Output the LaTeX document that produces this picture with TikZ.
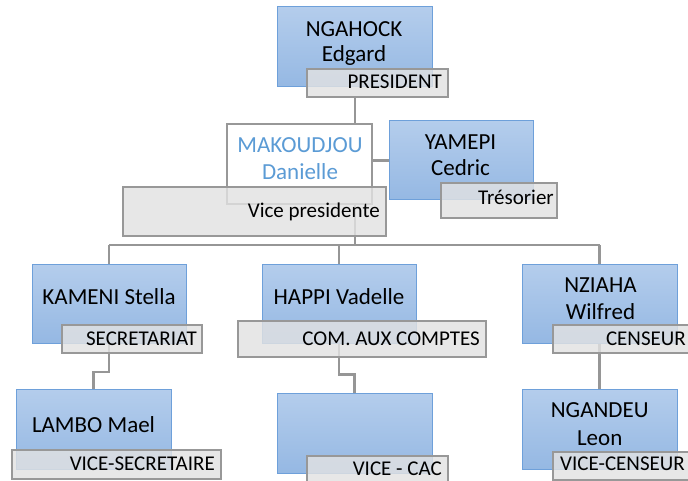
\documentclass[tikz,border=0pt]{standalone}
\usepackage{fontspec}
\setmainfont{Carlito}
\definecolor{bluetop}{RGB}{180,205,236}
\definecolor{bluebot}{RGB}{149,184,227}
\definecolor{bluebd}{RGB}{110,160,218}
\definecolor{lblfill}{RGB}{226,226,226}
\definecolor{lbldraw}{RGB}{152,152,152}
\definecolor{connc}{RGB}{150,150,150}
\definecolor{nameblue}{RGB}{91,155,213}
\pgfdeclarelayer{bg}
\pgfdeclarelayer{front}
\pgfsetlayers{bg,main,front}
\tikzset{
  pbox/.style={draw=bluebd, line width=1pt, top color=bluetop, bottom color=bluebot,
    inner sep=0pt, outer sep=0pt},
  wbox/.style={draw=lbldraw, line width=2.2pt, fill=white, inner sep=0pt, outer sep=0pt},
  lbox/.style={draw=lbldraw, line width=2.6pt, fill=lblfill, fill opacity=0.82,
    inner sep=0pt, outer sep=0pt},
  conn/.style={draw=connc, line width=2.5pt},
  nametext/.style={font=\fontsize{23}{26}\selectfont, inner sep=0pt, anchor=base},
  lbltext/.style={font=\fontsize{21}{25}\selectfont, inner sep=0pt, anchor=base east},
}
\begin{document}
\begin{tikzpicture}[x=1pt, y=-1pt]
\clip (0,0) rectangle (688,481);
\begin{pgfonlayer}{bg}
\fill[white] (0,0) rectangle (688,481);
\end{pgfonlayer}

% person boxes
\path
 node[pbox, minimum width=155pt, minimum height=80pt] (ngahock) at (354.5,47) {}
 node[pbox, minimum width=144pt, minimum height=79pt] (yamepi) at (461,160.5) {}
 node[pbox, minimum width=154pt, minimum height=79pt] (kameni) at (109,303.5) {}
 node[pbox, minimum width=154pt, minimum height=79pt] (happi) at (339,303.5) {}
 node[pbox, minimum width=155pt, minimum height=79pt] (nziaha) at (599.5,303.5) {}
 node[pbox, minimum width=155pt, minimum height=80pt] (lambo) at (93.5,429) {}
 node[pbox, minimum width=155pt, minimum height=80pt] (vicecac) at (354.5,433) {}
 node[pbox, minimum width=155pt, minimum height=80pt] (ngandeu) at (599.5,429) {}
 node[wbox, minimum width=145pt, minimum height=80pt] (makoudjou) at (299.5,164) {};

% label boxes
\path
 node[lbox, minimum width=141pt, minimum height=28pt] (president) at (377.5,83) {}
 node[lbox, minimum width=263pt, minimum height=49pt] (vicepres) at (254.5,211.5) {}
 node[lbox, minimum width=116pt, minimum height=35pt] (tresorier) at (499,200.5) {}
 node[lbox, minimum width=140pt, minimum height=28pt] (secretariat) at (132,339) {}
 node[lbox, minimum width=248pt, minimum height=36pt] (comptes) at (362,339) {}
 node[lbox, minimum width=141pt, minimum height=28pt] (censeur) at (623.5,339) {}
 node[lbox, minimum width=209pt, minimum height=29pt] (vicesec) at (116.5,464.5) {}
 node[lbox, minimum width=141pt, minimum height=30pt] (vicecaclbl) at (377.5,471) {}
 node[lbox, minimum width=141pt, minimum height=28pt] (vicecens) at (623.5,466) {};

\coordinate (hub) at (355,245);

% connectors (behind)
\begin{pgfonlayer}{bg}
\draw[conn] (president.south -| hub) -- (hub);
\draw[conn] (yamepi.west -| makoudjou.east) -- (yamepi.west);
\draw[conn] (kameni.north |- hub) -- (nziaha.north |- hub);
\draw[conn] (kameni.north |- hub) -- (kameni.north);
\draw[conn] (happi.north |- hub) -- (happi.north);
\draw[conn] (nziaha.north |- hub) -- (nziaha.north);
\draw[conn] (kameni.south) -- ++(0,29) -| (lambo.north);
\draw[conn] (happi.south) -- ++(0,31.5) -| (vicecac.north);
\draw[conn] (nziaha.south) -- (ngandeu.north);
\end{pgfonlayer}

% names
\begin{pgfonlayer}{front}
\node[nametext] (t1) at (354,36.7) {NGAHOCK};
\node[nametext] (t2) at (354,62) {Edgard};
\node[nametext, text=nameblue] (t3) at (300,152.7) {MAKOUDJOU};
\node[nametext, text=nameblue] (t4) at (300,179.3) {Danielle};
\node[nametext] (t5) at (460.5,150) {YAMEPI};
\node[nametext] (t6) at (460.5,175.7) {Cedric};
\node[nametext] (t7) at (109,304.3) {KAMENI Stella};
\node[nametext] (t8) at (339,304.3) {HAPPI Vadelle};
\node[nametext] (t9) at (600.5,292.7) {NZIAHA};
\node[nametext] (t10) at (600.5,319) {Wilfred};
\node[nametext] (t11) at (93.5,432.7) {LAMBO Mael};
\node[nametext] (t12) at (599.7,417.7) {NGANDEU};
\node[nametext] (t13) at (599.7,445) {Leon};

% label texts
\node[lbltext] (l1) at (442,88.3) {PRESIDENT};
\node[lbltext] (l2) at (380,217.3) {Vice presidente};
\node[lbltext] (l3) at (554,205) {Trésorier};
\node[lbltext] (l4) at (197,345) {SECRETARIAT};
\node[lbltext] (l5) at (480,345) {COM. AUX COMPTES};
\node[lbltext] (l6) at (686,345) {CENSEUR};
\node[lbltext] (l7) at (215,470) {VICE-SECRETAIRE};
\node[lbltext] (l8) at (442,475) {VICE - CAC};
\node[lbltext] (l9) at (685,470) {VICE-CENSEUR};
\end{pgfonlayer}
\end{tikzpicture}
\end{document}
